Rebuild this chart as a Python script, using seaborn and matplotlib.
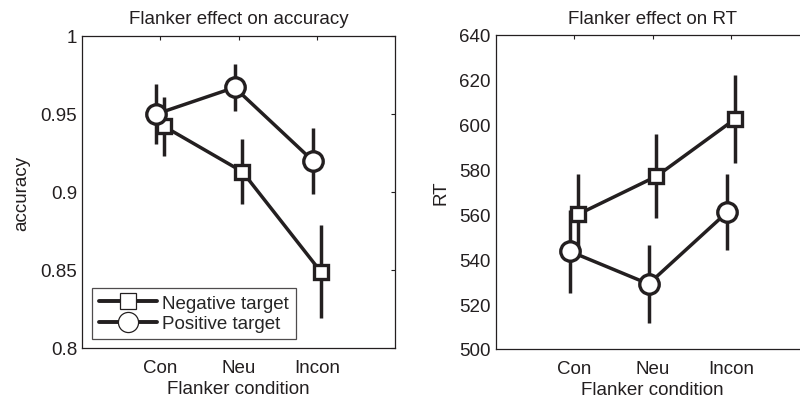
import numpy as np
import pandas as pd
import seaborn as sns
import matplotlib.pyplot as plt
from matplotlib.lines import Line2D

conditions = ['Con', 'Neu', 'Incon']
targets = ['Negative target', 'Positive target']

acc_neg = [0.942, 0.913, 0.849]
acc_neg_err = [0.019, 0.021, 0.030]
acc_pos = [0.950, 0.967, 0.920]
acc_pos_err = [0.019, 0.015, 0.021]

rt_neg = [560, 577, 602.5]
rt_neg_err = [18, 18.7, 19.5]
rt_pos = [543.5, 529, 561]
rt_pos_err = [18.5, 17.5, 17]

ink = '#231f20'
fs = 13.5
offsets = {'Negative target': 0.05, 'Positive target': -0.05}
markers = {'Negative target': 's', 'Positive target': 'o'}
msize = {'Negative target': 10.5, 'Positive target': 14}


def make_frame(neg, neg_err, pos, pos_err):
    rows = []
    for tgt, vals, errs in [(targets[0], neg, neg_err), (targets[1], pos, pos_err)]:
        for i, c in enumerate(conditions):
            rows.append({'cond': c, 'x': i + 1 + offsets[tgt], 'target': tgt,
                         'y': vals[i], 'err': errs[i]})
    return pd.DataFrame(rows)


sns.set_style('white')
plt.rcParams['font.family'] = ['Liberation Sans', 'DejaVu Sans']
plt.rcParams['font.size'] = fs

fig = plt.figure(figsize=(8, 4.02), dpi=100)
ax1 = fig.add_axes([82 / 800, 1 - 349 / 402, 313 / 800, 312 / 402])
ax2 = fig.add_axes([495.5 / 800, 1 - 350 / 402, 314 / 800, 314 / 402])


def draw(ax, df, ylim, yticks, ylabel, title, yfmt):
    z = 2
    for tgt in targets:
        d = df[df['target'] == tgt]
        ax.errorbar(d['x'], d['y'], yerr=d['err'], fmt='none', ecolor=ink,
                    elinewidth=2.5, capsize=0, zorder=z)
        sns.lineplot(data=d, x='x', y='y', ax=ax, color=ink, lw=2.5,
                     marker=markers[tgt], markersize=msize[tgt],
                     markerfacecolor='white', markeredgecolor=ink,
                     markeredgewidth=2.4, zorder=z + 1, legend=False,
                     estimator=None, sort=False)
        z += 2
    ax.set_xlim(0, 4)
    ax.set_ylim(*ylim)
    ax.set_xticks([1, 2, 3])
    ax.set_xticklabels(conditions)
    ax.set_yticks(yticks)
    ax.set_yticklabels([yfmt(v) for v in yticks])
    ax.tick_params(direction='in', length=3, width=0.8, colors=ink,
                   top=True, right=True, labelsize=fs, pad=3.5)
    ax.tick_params(axis='x', pad=8)
    ax.set_xlabel('Flanker condition', fontsize=fs, color=ink, labelpad=3)
    ax.set_ylabel(ylabel, fontsize=fs, color=ink, labelpad=7)
    ax.set_title(title, fontsize=fs, color=ink, pad=9)
    for s in ax.spines.values():
        s.set_color(ink)
        s.set_linewidth(0.9)


acc = make_frame(acc_neg, acc_neg_err, acc_pos, acc_pos_err)
rt = make_frame(rt_neg, rt_neg_err, rt_pos, rt_pos_err)

draw(ax1, acc, (0.8, 1.0), [0.8, 0.85, 0.9, 0.95, 1.0], 'accuracy',
     'Flanker effect on accuracy', lambda v: ('%g' % v))
draw(ax2, rt, (500, 640), [500, 520, 540, 560, 580, 600, 620, 640], 'RT',
     'Flanker effect on RT', lambda v: '%d' % v)

handles = [Line2D([], [], color=ink, lw=2.8, marker=markers[t], markersize=msize[t] + 0.5,
                  markerfacecolor='white', markeredgecolor=ink, markeredgewidth=0.9)
           for t in targets]
leg = ax1.legend(handles, targets, loc='lower left', bbox_to_anchor=(0.032, 0.029),
                 fontsize=fs, frameon=True, fancybox=False, handlelength=3.1,
                 handletextpad=0.3, borderpad=0.35, labelspacing=0.2, numpoints=1,
                 borderaxespad=0.0)
leg.get_frame().set_edgecolor(ink)
leg.get_frame().set_linewidth(0.9)

fig.savefig('out.png', dpi=100)
